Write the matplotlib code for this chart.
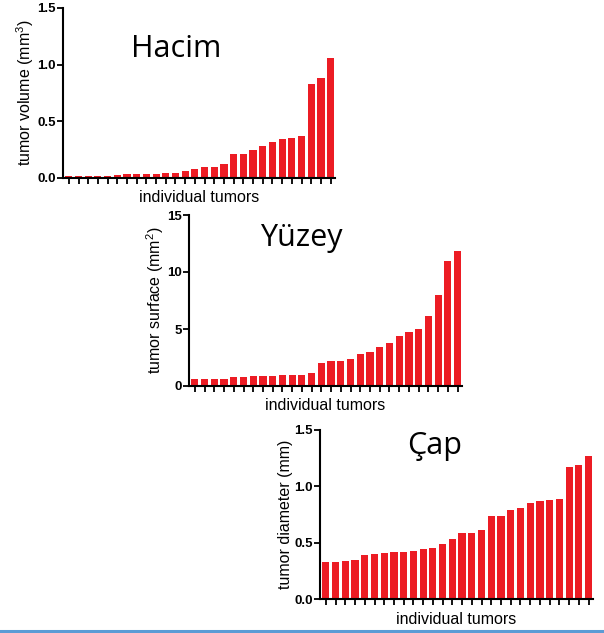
import matplotlib
matplotlib.use("Agg")
import matplotlib.pyplot as plt
import numpy as np

plt.rcParams["font.family"] = "Liberation Sans"
plt.rcParams["mathtext.fontset"] = "custom"
plt.rcParams["mathtext.rm"] = "Liberation Sans"
plt.rcParams["mathtext.it"] = "Liberation Sans"

volume = [0.015, 0.015, 0.015, 0.02, 0.022, 0.027, 0.032, 0.035, 0.037, 0.037,
          0.04, 0.042, 0.06, 0.075, 0.10, 0.10, 0.12, 0.21, 0.21, 0.25,
          0.28, 0.32, 0.34, 0.35, 0.37, 0.83, 0.88, 1.06]
surface = [0.6, 0.65, 0.65, 0.65, 0.75, 0.8, 0.85, 0.9, 0.9, 0.95,
           1.0, 1.0, 1.1, 2.0, 2.2, 2.2, 2.4, 2.8, 3.0, 3.4,
           3.8, 4.4, 4.7, 5.0, 6.1, 8.0, 11.0, 11.8]
diameter = [0.33, 0.33, 0.335, 0.35, 0.39, 0.40, 0.41, 0.42, 0.42, 0.43,
            0.44, 0.45, 0.49, 0.53, 0.59, 0.59, 0.61, 0.74, 0.74, 0.79,
            0.81, 0.85, 0.87, 0.88, 0.89, 1.17, 1.19, 1.27]

titles = ["Hacim", "Yüzey", "Çap"]
ylabels = ["tumor volume (mm$^3$)", "tumor surface (mm$^2$)", "tumor diameter (mm)"]
yticks = [[0.0, 0.5, 1.0, 1.5], [0, 5, 10, 15], [0.0, 0.5, 1.0, 1.5]]
yticklabels = [["0.0", "0.5", "1.0", "1.5"], ["0", "5", "10", "15"], ["0.0", "0.5", "1.0", "1.5"]]
xlabel = "individual tumors"

W, H = 604, 633
fig = plt.figure(figsize=(W / 100, H / 100), dpi=100)
fig.patch.set_facecolor("white")

# axes boxes in pixels: left, right, top, bottom
boxes = [(63, 335, 8, 178), (189, 462, 215, 386), (320, 593, 430, 599)]
title_pos = [(0.415, 0.71), (0.41, 0.82), (0.42, 0.86)]

red = "#ec1c24"
for vals, title, yl, yt, ytl, box, tp in zip(
        [volume, surface, diameter], titles, ylabels, yticks, yticklabels, boxes, title_pos):
    l, r, t, b = box
    ax = fig.add_axes([l / W, 1 - b / H, (r - l) / W, (b - t) / H])
    x = np.arange(len(vals))
    ax.bar(x, vals, width=0.74, color=red, edgecolor="none")
    ax.set_xlim(-0.6, len(vals) - 0.55)
    ax.set_ylim(yt[0], yt[-1])
    ax.set_yticks(yt)
    ax.set_yticklabels(ytl, fontweight="bold", fontsize=9.5)
    ax.set_xticks(x)
    ax.set_xticklabels([])
    ax.tick_params(axis="x", length=4, width=1.3, direction="out", pad=1)
    ax.tick_params(axis="y", length=4, width=1.3, direction="out", pad=1)
    for s in ["top", "right"]:
        ax.spines[s].set_visible(False)
    for s in ["left", "bottom"]:
        ax.spines[s].set_linewidth(1.5)
    ax.set_ylabel(yl, fontsize=11.5, labelpad=1)
    ax.set_xlabel(xlabel, fontsize=11.5, labelpad=4)
    ax.text(tp[0], tp[1], title, transform=ax.transAxes, ha="center", va="baseline",
            fontsize=22, family="Open Sans")

# thin blue rule at the bottom of the image
fig.add_artist(plt.Line2D([0, 1], [1 - 631 / H, 1 - 631 / H], color="#5b9bd5", lw=2.2,
                          transform=fig.transFigure))

fig.savefig("out.png", dpi=100)
